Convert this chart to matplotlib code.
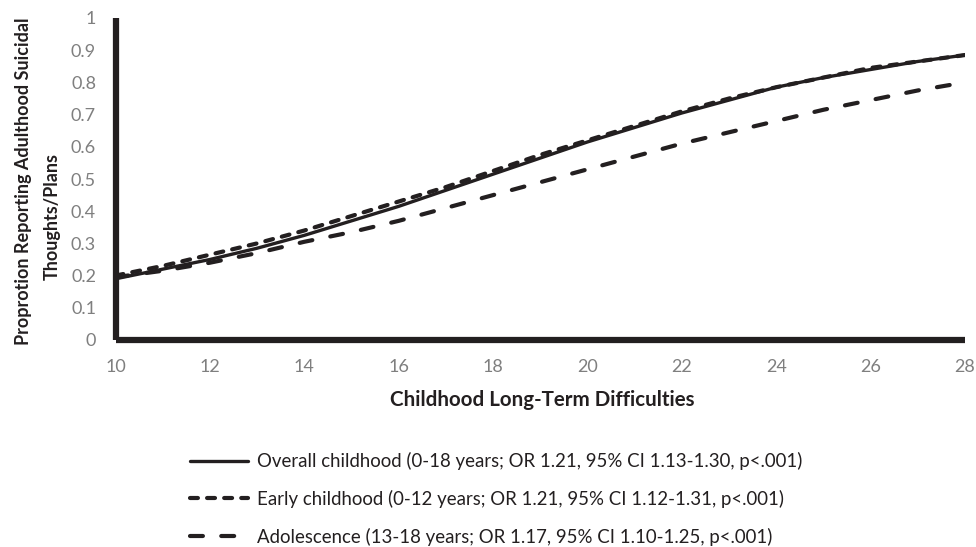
import matplotlib.pyplot as plt

# values
difficulties = [10, 11, 12, 13, 14, 15, 16, 17, 18, 19, 20, 21, 22, 23, 24, 25, 26, 27, 28]
overall = [0.19, 0.22, 0.25, 0.285, 0.325, 0.37, 0.415, 0.465, 0.515, 0.565, 0.615,
           0.66, 0.705, 0.745, 0.785, 0.815, 0.84, 0.865, 0.885]
early = [0.20, 0.23, 0.265, 0.30, 0.34, 0.385, 0.43, 0.475, 0.525, 0.575, 0.62,
         0.665, 0.71, 0.75, 0.785, 0.815, 0.845, 0.865, 0.885]
adolescence = [0.195, 0.215, 0.24, 0.27, 0.305, 0.335, 0.37, 0.41, 0.45, 0.49, 0.53,
               0.57, 0.61, 0.645, 0.68, 0.715, 0.745, 0.775, 0.80]

labels = [
    "Overall childhood (0-18 years; OR 1.21, 95% CI 1.13-1.30, p<.001)",
    "Early childhood (0-12 years; OR 1.21, 95% CI 1.12-1.31, p<.001)",
    "Adolescence (13-18 years; OR 1.17, 95% CI 1.10-1.25, p<.001)",
]
x_ticks = [10, 12, 14, 16, 18, 20, 22, 24, 26, 28]
y_ticks = [0, 0.1, 0.2, 0.3, 0.4, 0.5, 0.6, 0.7, 0.8, 0.9, 1]
y_tick_labels = ["0", "0.1", "0.2", "0.3", "0.4", "0.5", "0.6", "0.7", "0.8", "0.9", "1"]

plt.rcParams["font.family"] = ["Lato", "DejaVu Sans"]
ink = "#231f20"
grey = "#7f7f7f"

W, H = 976, 547
fig = plt.figure(figsize=(W / 100, H / 100), dpi=100)
ax = fig.add_axes([115.5 / W, 1 - 340 / H, (965 - 115.5) / W, 322 / H])

ax.plot(difficulties, overall, color=ink, lw=2.4, solid_capstyle="round", label=labels[0])
ax.plot(difficulties, early, color=ink, lw=3.0, dashes=(1.9, 2.2),
        dash_capstyle="round", label=labels[1])
ax.plot(difficulties, adolescence, color=ink, lw=3.0, dashes=(3.1, 4.4),
        dash_capstyle="round", label=labels[2])

ax.set_xlim(10, 28)
ax.set_ylim(0, 1)
ax.set_xticks(x_ticks)
ax.set_yticks(y_ticks)
ax.set_yticklabels(y_tick_labels)
ax.tick_params(length=0, labelsize=13, colors=grey, pad=14)
ax.tick_params(axis="x", pad=14)
for side in ["top", "right"]:
    ax.spines[side].set_visible(False)
for side in ["left", "bottom"]:
    ax.spines[side].set_color(ink)
    ax.spines[side].set_linewidth(4.5)
    ax.spines[side].set_capstyle("butt")

fig.text(542 / W, 1 - 400 / H, "Childhood Long-Term Difficulties", ha="center", va="center",
         fontsize=14.8, fontweight="bold", color=ink)
fig.text(24 / W, 1 - 181 / H, "Proprotion Reporting Adulthood Suicidal", rotation=90,
         ha="center", va="center", fontsize=13, fontweight="bold", color=ink)
fig.text(52 / W, 1 - 216 / H, "Thoughts/Plans", rotation=90,
         ha="center", va="center", fontsize=13, fontweight="bold", color=ink)

leg = fig.legend(loc="upper left", bbox_to_anchor=(190 / W, 1 - 452 / H),
                 frameon=False, fontsize=13.4, handlelength=3.1, handletextpad=0.5,
                 labelspacing=1.06, borderpad=0, borderaxespad=0)
for t in leg.get_texts():
    t.set_color(ink)

fig.savefig("out.png", dpi=100)
